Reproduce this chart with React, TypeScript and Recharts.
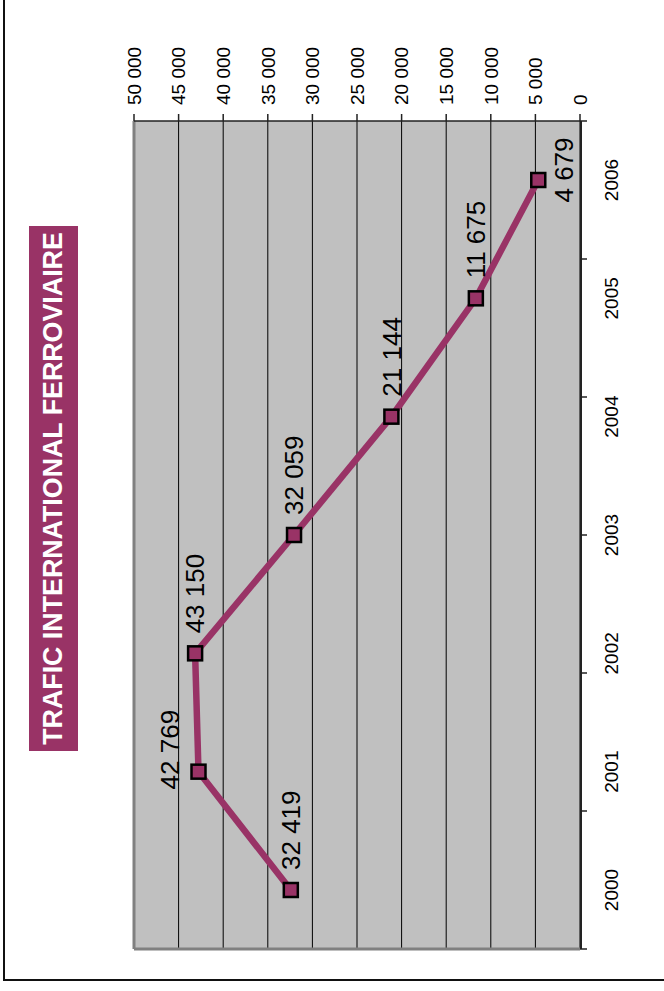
import React from "react";
import {
  CartesianGrid,
  LabelList,
  Line,
  LineChart,
  ReferenceLine,
  XAxis,
  YAxis,
} from "recharts";

const years = ["2000", "2001", "2002", "2003", "2004", "2005", "2006"];
const traffic = [32419, 42769, 43150, 32059, 21144, 11675, 4679];
const valueTicks = [0, 5000, 10000, 15000, 20000, 25000, 30000, 35000, 40000, 45000, 50000];
const boundaryTicks = [0, 1, 2, 3, 4, 5, 6, 7];

const chartData = years.map((year, i) => ({ year, traffic: traffic[i] }));

const PLUM = "#993366";
const FONT = "'Liberation Sans', Arial, sans-serif";
const AXIS_FONT = 19;

// most labels sit right of the point; two were moved by hand in the original
const labelPlacement: Record<number, { anchor: "start" | "middle"; dx: number; dy: number }> = {
  1: { anchor: "middle", dx: 22, dy: -29 },
  6: { anchor: "middle", dx: 10, dy: 25 },
};

const fmt = (v: number) => String(v).replace(/\B(?=(\d{3})+(?!\d))/g, " ");

function SquareDot(props: any) {
  const { cx, cy, index } = props;
  if (cx == null || cy == null) return null;
  const s = 14;
  return (
    <rect
      key={`dot-${index}`}
      x={cx - s / 2}
      y={cy - s / 2}
      width={s}
      height={s}
      fill={PLUM}
      stroke="#000"
      strokeWidth={2.5}
    />
  );
}

function PointLabel(props: any) {
  const { x, y, value, index } = props;
  const place = labelPlacement[index] ?? { anchor: "start", dx: 20, dy: 0 };
  const size = 26;
  return (
    <text
      x={x + place.dx}
      y={y + place.dy + size * 0.358}
      textAnchor={place.anchor}
      fontSize={size}
      fontFamily={FONT}
      fill="#000"
    >
      {fmt(Number(value))}
    </text>
  );
}

function ValueTick(props: any) {
  const { x, y, payload } = props;
  return (
    <text
      x={x}
      y={y + AXIS_FONT * 0.358}
      textAnchor="start"
      fontSize={AXIS_FONT}
      fontFamily={FONT}
      fill="#000"
    >
      {fmt(Number(payload.value))}
    </text>
  );
}

function YearTick(props: any) {
  const { x, y, payload } = props;
  return (
    <text
      x={x}
      y={y + AXIS_FONT * 0.716}
      textAnchor="middle"
      fontSize={AXIS_FONT}
      fontFamily={FONT}
      fill="#000"
    >
      {payload.value}
    </text>
  );
}

const EmptyTick = () => <g />;

export default function App() {
  return (
    <div
      style={{
        position: "absolute",
        left: 0,
        top: 0,
        width: 664,
        height: 991,
        overflow: "hidden",
        background: "#fff",
        fontFamily: FONT,
      }}
    >
      <div
        style={{
          position: "absolute",
          left: 3,
          top: -10,
          width: 700,
          height: 991,
          boxSizing: "border-box",
          border: "2px solid #111",
        }}
      />
      <div
        style={{
          position: "absolute",
          left: 0,
          top: 0,
          width: 991,
          height: 664,
          transformOrigin: "0 0",
          transform: "translate(0px, 991px) rotate(-90deg)",
        }}
      >
        <LineChart
          width={991}
          height={664}
          data={chartData}
          margin={{ top: 134, right: 0, bottom: 82, left: 42 }}
        >
          <CartesianGrid
            xAxisId="years"
            vertical={false}
            stroke="#000"
            strokeWidth={1}
            fill="#c0c0c0"
            fillOpacity={1}
          />
          <XAxis
            xAxisId="years"
            dataKey="year"
            height={1}
            padding={{ left: 59, right: 59 }}
            tickLine={false}
            tickMargin={17}
            axisLine={{ stroke: "#222", strokeWidth: 2 }}
            tick={YearTick}
            interval={0}
          />
          <XAxis
            xAxisId="ticks"
            type="number"
            domain={[0, 7]}
            ticks={boundaryTicks}
            allowDataOverflow
            height={1}
            tick={EmptyTick}
            tickSize={7}
            tickLine={{ stroke: "#222", strokeWidth: 1.5 }}
            axisLine={false}
            interval={0}
          />
          <YAxis
            orientation="right"
            width={121}
            domain={[0, 50000]}
            ticks={valueTicks}
            interval={0}
            tickSize={7}
            tickMargin={9}
            tickLine={{ stroke: "#222", strokeWidth: 1.5 }}
            axisLine={{ stroke: "#222", strokeWidth: 1.5 }}
            tick={ValueTick}
          />
          <ReferenceLine xAxisId="years" y={50000} stroke="#808080" strokeWidth={3} />
          <ReferenceLine xAxisId="ticks" x={0} stroke="#808080" strokeWidth={3} />
          <Line
            xAxisId="years"
            type="linear"
            dataKey="traffic"
            stroke={PLUM}
            strokeWidth={6.5}
            dot={SquareDot}
            activeDot={false}
            isAnimationActive={false}
          >
            <LabelList dataKey="traffic" content={PointLabel} />
          </Line>
        </LineChart>
        <div
          style={{
            position: "absolute",
            left: 240,
            top: 29,
            width: 525,
            height: 49,
            background: PLUM,
            color: "#fff",
            fontWeight: "bold",
            fontSize: 26.8,
            fontFamily: FONT,
            display: "flex",
            alignItems: "center",
            justifyContent: "center",
            whiteSpace: "nowrap",
          }}
        >
          TRAFIC INTERNATIONAL FERROVIAIRE
        </div>
      </div>
    </div>
  );
}
